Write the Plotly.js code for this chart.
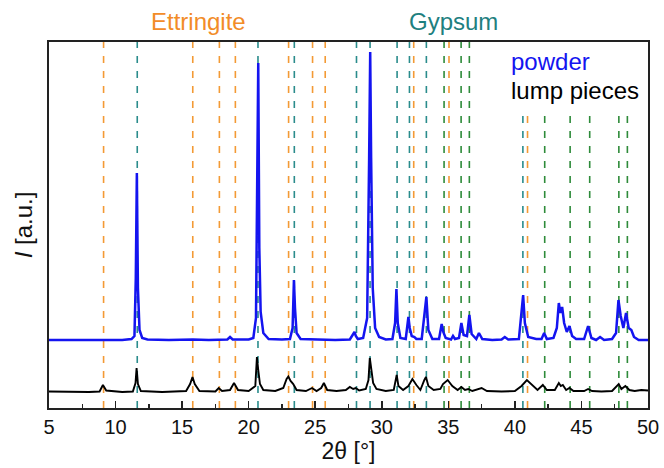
<!DOCTYPE html>
<html>
<head>
<meta charset="utf-8">
<script src="https://cdn.plot.ly/plotly-3.0.1.min.js"></script>
<style>html,body{margin:0;padding:0;background:#fff;}#chart{width:664px;height:468px;}</style>
</head>
<body>
<div id="chart"></div>
<script>
// 2θ positions and intensities (arbitrary units)
const powderX = [5.0, 6.5, 8.0, 9.1, 10.5, 11.2, 11.42, 11.52, 11.6, 11.68, 11.8, 12.0, 12.4, 14.0, 15.8, 17.0, 18.4, 18.6, 18.8, 20.0, 20.35, 20.55, 20.65, 20.72, 20.8, 20.9, 21.1, 21.5, 22.5, 23.1, 23.3, 23.4, 23.48, 23.6, 23.9, 25.0, 26.5, 27.6, 27.95, 28.05, 28.2, 28.6, 28.9, 29.05, 29.13, 29.2, 29.32, 29.5, 29.8, 30.3, 30.8, 31.0, 31.1, 31.2, 31.4, 31.8, 32.0, 32.1, 32.25, 32.45, 32.6, 33.0, 33.25, 33.35, 33.5, 33.8, 34.3, 34.5, 34.62, 34.8, 35.2, 35.35, 35.5, 35.8, 35.98, 36.15, 36.4, 36.58, 36.75, 37.1, 37.3, 37.55, 38.3, 39.0, 39.24, 39.5, 40.3, 40.52, 40.62, 40.75, 41.0, 41.6, 42.0, 42.2, 42.4, 42.9, 43.15, 43.3, 43.42, 43.55, 43.7, 43.9, 44.1, 44.3, 44.6, 45.2, 45.5, 45.75, 46.1, 46.4, 46.7, 47.3, 47.6, 47.78, 47.95, 48.15, 48.35, 48.55, 48.75, 48.95, 49.3, 50.0];
const powderY = [68, 68, 68, 68.5, 68, 69, 72, 130, 235, 120, 78, 70, 68.5, 68, 68.5, 68, 68.5, 71, 68.5, 68.5, 70, 90, 250, 345, 160, 96, 75, 69, 68.5, 69, 80, 128, 100, 75, 69, 68.5, 68, 68.5, 76, 72, 69, 70, 90, 250, 356, 250, 120, 80, 71, 68.5, 69, 85, 119, 85, 70, 69, 91, 80, 72, 71, 69, 69, 100, 111, 78, 69, 69, 84, 76, 70, 68.5, 72, 69, 70, 85, 73, 72, 93, 74, 69, 75, 69, 68, 68.5, 71, 68.5, 69, 100, 113, 85, 71, 69, 69, 75, 69, 70, 80, 105, 95, 101, 85, 76, 82, 72, 69, 69, 82, 70, 68, 71, 68, 69, 75, 108, 92, 80, 95, 80, 78, 71, 68, 68];

const lumpX = [5.0, 6.5, 8.0, 8.8, 9.05, 9.3, 10.5, 11.3, 11.5, 11.58, 11.68, 11.9, 13.5, 15.3, 15.6, 15.78, 15.95, 16.3, 17.5, 17.75, 18.0, 18.6, 18.9, 19.2, 20.0, 20.5, 20.62, 20.72, 20.85, 21.1, 22.0, 22.6, 22.85, 22.98, 23.15, 23.35, 23.6, 24.3, 24.76, 25.1, 25.45, 25.65, 25.9, 26.6, 27.3, 27.6, 27.85, 28.05, 28.3, 28.8, 29.0, 29.1, 29.2, 29.35, 29.6, 30.3, 30.9, 31.05, 31.12, 31.25, 31.6, 32.0, 32.3, 32.6, 32.9, 33.2, 33.32, 33.5, 33.9, 34.4, 34.6, 34.95, 35.3, 35.7, 35.98, 36.25, 36.5, 36.8, 37.5, 37.9, 39.0, 40.0, 40.5, 40.9, 41.3, 41.7, 42.1, 42.4, 43.0, 43.3, 43.45, 43.6, 43.85, 44.1, 44.4, 45.2, 45.5, 45.8, 46.5, 47.3, 47.8, 48.0, 48.3, 48.6, 49.0, 49.5, 50.0];
const lumpY = [16.5, 16, 16, 16.5, 23, 17.5, 16, 16.5, 25, 40, 24, 17, 16, 17, 24, 31, 24, 17, 16.5, 20, 17, 18, 25, 18, 17, 22, 51, 38, 24, 18, 17, 20, 29, 31.5, 27, 24, 18, 17, 20, 17, 20, 25, 18, 17, 18, 21, 19, 20, 17.5, 19, 28, 50, 38, 25, 19, 17, 18, 28, 33, 22, 18, 22, 29, 23, 18, 28, 31, 22, 18, 19, 24, 28, 22, 18, 21, 18, 19, 17, 20, 17, 16.5, 17, 22, 28, 23, 18, 23, 18, 18, 25, 22, 23, 18, 20, 17, 17, 19, 17, 16.5, 17, 24, 19, 22, 18, 17, 18, 17.5];

// reference reflection positions (2θ)
const ettringiteLines = [9.1, 15.8, 17.8, 19.0, 23.0, 24.8, 25.75, 32.4, 35.05, 40.95];
const gypsumLines = [11.63, 20.7, 23.43, 28.1, 29.12, 31.15, 32.08, 33.35, 40.6];
const otherLines = [34.68, 35.96, 36.58, 42.24, 44.15, 45.62, 47.81, 48.45];

const xTickVals = [5, 10, 15, 20, 25, 30, 35, 40, 45, 50];
const xTickText = ['5', '10', '15', '20', '25', '30', '35', '40', '45', '50'];

const seriesNames = ['powder', 'lump pieces'];
const phaseNames = ['Ettringite', 'Gypsum'];

const C_ETT = '#F39A35', C_GYP = '#2A8C8C', C_OTH = '#2E8B3A';
const YTOP = 366, LEGEND_BOTTOM = 300;

const shapes = [];
function addLines(list, color) {
  list.forEach(v => {
    shapes.push({
      type: 'line', xref: 'x', yref: 'y', x0: v, x1: v, y0: 0,
      y1: v > 40 ? LEGEND_BOTTOM : YTOP,
      line: {color: color, width: 1.6, dash: '7px,8px'}, layer: 'below'
    });
  });
}
addLines(ettringiteLines, C_ETT);
addLines(gypsumLines, C_GYP);
addLines(otherLines, C_OTH);

const traces = [
  {x: powderX, y: powderY, type: 'scatter', mode: 'lines', name: seriesNames[0],
   line: {color: '#1414F0', width: 2.5}},
  {x: lumpX, y: lumpY, type: 'scatter', mode: 'lines', name: seriesNames[1],
   line: {color: '#000000', width: 1.9}}
];

const FONT = 'Liberation Sans, Arial, sans-serif';
const layout = {
  width: 664, height: 468,
  margin: {l: 49, r: 16, t: 42, b: 60},
  paper_bgcolor: '#fff', plot_bgcolor: '#fff',
  showlegend: false,
  font: {family: FONT, color: '#111'},
  xaxis: {
    range: [5, 50], tickvals: xTickVals, ticktext: xTickText,
    ticks: 'inside', ticklen: 7, tickwidth: 1.5, tickcolor: '#222',
    minor: {dtick: 2.5, tick0: 5, ticks: 'inside', ticklen: 4, tickwidth: 1.5, tickcolor: '#222'},
    showline: true, linecolor: '#222', linewidth: 2, mirror: true,
    showgrid: false, zeroline: false,
    tickfont: {size: 20, family: FONT, color: '#111'},
    title: {text: '2θ [°]', font: {size: 23, family: FONT, color: '#111'}, standoff: 6}
  },
  yaxis: {
    range: [0, YTOP], showticklabels: false, ticks: '',
    showline: true, linecolor: '#222', linewidth: 2, mirror: true,
    showgrid: false, zeroline: false,
    title: {text: '<i>I</i> [a.u.]', font: {size: 24, family: FONT, color: '#111'}, standoff: 8}
  },
  shapes: shapes,
  annotations: [
    {text: phaseNames[0], xref: 'x', yref: 'paper', x: 16.2, y: 1.055, showarrow: false,
     xanchor: 'center', yanchor: 'middle', font: {size: 24, family: FONT, color: '#F28C28'}},
    {text: phaseNames[1], xref: 'x', yref: 'paper', x: 35.4, y: 1.055, showarrow: false,
     xanchor: 'center', yanchor: 'middle', font: {size: 24, family: FONT, color: '#1E8080'}},
    {text: seriesNames[0], xref: 'x', yref: 'y', x: 39.55, y: 347, showarrow: false,
     xanchor: 'left', yanchor: 'middle', font: {size: 24, family: FONT, color: '#1414F0'}},
    {text: seriesNames[1], xref: 'x', yref: 'y', x: 39.55, y: 318, showarrow: false,
     xanchor: 'left', yanchor: 'middle', font: {size: 24, family: FONT, color: '#000'}}
  ]
};

Plotly.newPlot('chart', traces, layout, {staticPlot: true, displayModeBar: false});
</script>
</body>
</html>
